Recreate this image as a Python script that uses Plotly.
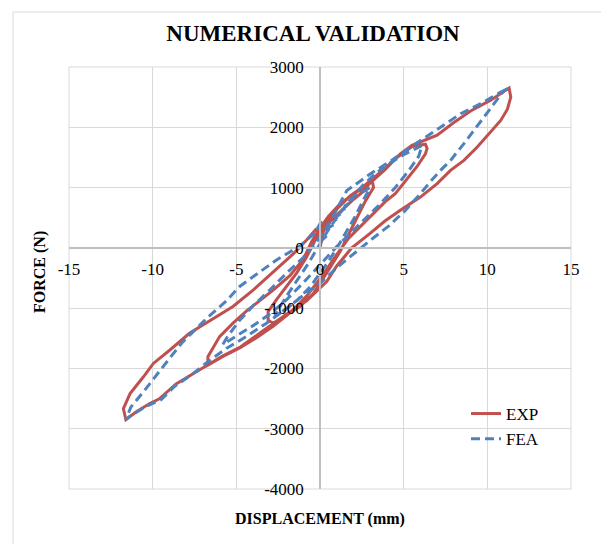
import plotly.graph_objects as go

# ---- data ----
exp_x = [0.0, 0.2, 0.6, 1.2, 1.9, 2.7, 3.1, 3.2,
         2.7, 1.9, 1.2, 0.6, 0.0, -0.4, -1.2, -2.0, -2.8, -3.1, -3.1,
         -2.6, -2.0, -1.4, -0.8, -0.3, 0.3, 1.0, 1.8, 2.6, 3.6, 4.6, 5.5, 6.3,
         6.4, 6.3,
         5.8, 5.1, 4.5, 3.9, 3.1, 2.3, 1.7, 0.9, 0.1, -0.8, -1.8, -2.8, -3.8, -4.8, -5.8, -6.7,
         -6.7, -6.0, -5.2, -4.4, -3.6, -2.8, -1.8, -1.0, -0.5, 0.0, 0.5, 1.1, 2.0, 2.7, 3.9, 4.8,
         5.5, 6.2, 7.0, 8.0, 9.0, 10.2, 11.0, 11.3,
         11.4, 11.2, 10.8, 10.2, 9.4, 8.6, 7.8, 7.0, 6.0, 4.8, 3.9, 2.9, 1.9, 1.0, 0.4, -0.8,
         -2.0, -3.4, -4.8, -5.8, -6.8, -7.6, -8.6, -9.6, -10.2, -11.0, -11.6,
         -11.75, -11.35, -10.55, -9.96, -8.97, -8.4, -7.8, -7.0, -6.2, -5.2, -4.0, -2.4, -1.6,
         -0.8, -0.2]
exp_y = [0, 270, 440, 600, 780, 960, 1140, 1000,
         770, 330, -60, -330, -600, -760, -975, -1110, -1250, -1200, -1060,
         -860, -640, -420, -150, 120, 400, 640, 860, 1020, 1250, 1500, 1680, 1720,
         1650, 1560,
         1350, 1100, 900, 767, 544, 322, 156, -150, -480, -800, -1080, -1300, -1490, -1660, -1800, -1944,
         -1805, -1472, -1250, -1050, -880, -700, -460, -190, 100, 330, 520, 700, 900, 1000, 1300, 1560,
         1700, 1780, 1870, 2080, 2270, 2450, 2600, 2650,
         2500, 2300, 2114, 1920, 1672, 1451, 1285, 1065, 842, 622, 450, 220, 0, -300, -560, -880,
         -1100, -1376, -1651, -1789, -1954, -2091, -2256, -2504, -2587, -2724, -2851,
         -2667, -2417, -2139, -1917, -1694, -1556, -1417, -1278, -1139, -972, -700, -300, -100,
         130, 320]

fea_x = [0.0, 0.4, 0.5, 0.9, 1.0, 1.4, 1.5, 1.9, 2.0, 2.5, 3.0,
         2.6, 2.1, 1.6, 1.1, 0.5, 0.0, -0.6, -1.3, -2.0, -2.7,
         -2.4, -1.9, -1.3, -0.7, -0.1, 0.5, 1.1, 1.8, 2.6, 3.4, 4.2, 5.1, 6.1,
         5.9, 5.3, 4.5, 3.6, 2.8, 2.0, 1.0, 0.0, -1.0, -2.0, -3.0, -4.0, -5.0, -5.8,
         -5.5, -4.8, -4.0, -3.0, -2.0, -1.0, -0.2, 0.5, 1.6, 3.0, 4.25, 5.1, 6.0, 7.2, 8.4,
         9.6, 10.8, 11.3,
         11.0, 10.4, 9.8, 9.2, 8.6, 7.8, 7.2, 6.6, 6.0, 5.1, 4.1, 3.0, 2.0, 1.0, 0.0, -1.1,
         -2.1, -3.2, -4.4, -5.6, -6.7, -7.7, -8.7, -9.5, -10.4, -11.4, -11.6,
         -11.3, -10.5, -9.7, -8.9, -8.2, -7.5, -6.7, -5.6, -4.8, -3.6, -2.6, -1.2, -0.3, 0.1]
fea_y = [100, 200, 330, 400, 520, 600, 700, 760, 860, 920, 1000,
         800, 520, 270, 40, -230, -430, -650, -850, -1010, -1130,
         -980, -760, -520, -260, 20, 300, 540, 790, 1050, 1250, 1410, 1560, 1700,
         1520, 1280, 1000, 730, 510, 290, 20, -280, -580, -860, -1100, -1290, -1460, -1600,
         -1460, -1200, -960, -700, -420, -160, 100, 380, 950, 1225, 1445, 1610, 1780, 2000, 2225,
         2391, 2584, 2650,
         2612, 2391, 2169, 1949, 1728, 1451, 1285, 1100, 899, 620, 360, 125, -100, -330, -590, -810,
         -1030, -1250, -1470, -1670, -1890, -2110, -2300, -2520, -2630, -2800, -2850,
         -2640, -2370, -2080, -1800, -1560, -1370, -1150, -880, -640, -400, -200, 30, 250, 450]

x_ticks = [-15, -10, -5, 0, 5, 10, 15]
x_tick_labels = ["-15", "-10", "-5", "0", "5", "10", "15"]
y_ticks = [-4000, -3000, -2000, -1000, 0, 1000, 2000, 3000]
y_tick_labels = ["-4000", "-3000", "-2000", "-1000", "0", "1000", "2000", "3000"]

RED = "#c0504d"
BLUE = "#4f81bd"
SERIF = "Liberation Serif"

fig = go.Figure()
fig.add_trace(go.Scatter(x=exp_x, y=exp_y, mode="lines", name="EXP",
                         line=dict(color=RED, width=3)))
fig.add_trace(go.Scatter(x=fea_x, y=fea_y, mode="lines", name="FEA",
                         line=dict(color=BLUE, width=3, dash="9px,5px")))

# page body adds an 8px offset; plot area on screen: x 69..571, y 67..489
OFF = 8
SX0, SX1, SY0, SY1 = 69, 571, 67, 489
W, H = 609, 544
L = SX0 - OFF
T = SY0 - OFF
R = W - L - (SX1 - SX0)
B = H - T - (SY1 - SY0)
pw, ph = SX1 - SX0, SY1 - SY0

def px(xs):
    return (xs - SX0) / pw

def py(ys):
    return (SY1 - ys) / ph

fig.update_layout(
    width=W, height=H,
    margin=dict(l=L, r=R, t=T, b=B),
    paper_bgcolor="white", plot_bgcolor="white",
    font=dict(family=SERIF, color="black", size=17),
    title=dict(text="<b>NUMERICAL VALIDATION</b>", x=(313 - OFF) / W, xref="container",
               y=1 - (33 - OFF) / H, yref="container", xanchor="center", yanchor="middle",
               font=dict(family=SERIF, size=23, color="black")),
    xaxis=dict(range=[-15, 15], tickvals=x_ticks, ticktext=x_tick_labels,
               showgrid=True, gridcolor="#d9d9d9",
               gridwidth=1, zeroline=False, showline=True, linecolor="#bfbfbf", linewidth=1.5,
               anchor="free", position=4 / 7, ticks="outside", ticklen=6,
               tickcolor="rgba(0,0,0,0)", tickfont=dict(size=17, family=SERIF)),
    yaxis=dict(range=[-4000, 3000], tickvals=y_ticks, ticktext=y_tick_labels,
               showgrid=True, gridcolor="#d9d9d9",
               gridwidth=1, zeroline=False, showline=True, linecolor="#bfbfbf", linewidth=1.5,
               anchor="free", position=0.5, ticks="outside", ticklen=12,
               tickcolor="rgba(0,0,0,0)", tickfont=dict(size=17, family=SERIF)),
    legend=dict(x=px(466), y=py(396), xanchor="left", yanchor="top",
                bgcolor="rgba(0,0,0,0)", font=dict(size=17, family=SERIF),
                itemwidth=30, tracegroupgap=0),
    showlegend=True,
)

fig.add_shape(type="rect", xref="paper", yref="paper", x0=0, x1=1, y0=0, y1=1,
              line=dict(color="#d9d9d9", width=1), layer="below")
fig.add_shape(type="rect", xref="paper", yref="paper", x0=px(13), x1=px(604),
              y0=py(560), y1=py(12), line=dict(color="#d9d9d9", width=1), layer="below")

fig.add_annotation(text="<b>DISPLACEMENT (mm)</b>", xref="paper", yref="paper",
                   x=px(320), y=py(519), xanchor="center", yanchor="middle",
                   showarrow=False, font=dict(size=16, family=SERIF))
fig.add_annotation(text="<b>FORCE (N)</b>", xref="paper", yref="paper",
                   x=px(40), y=py(272), xanchor="center", yanchor="middle",
                   textangle=-90, showarrow=False, font=dict(size=16, family=SERIF))

fig.write_html("out.html")
